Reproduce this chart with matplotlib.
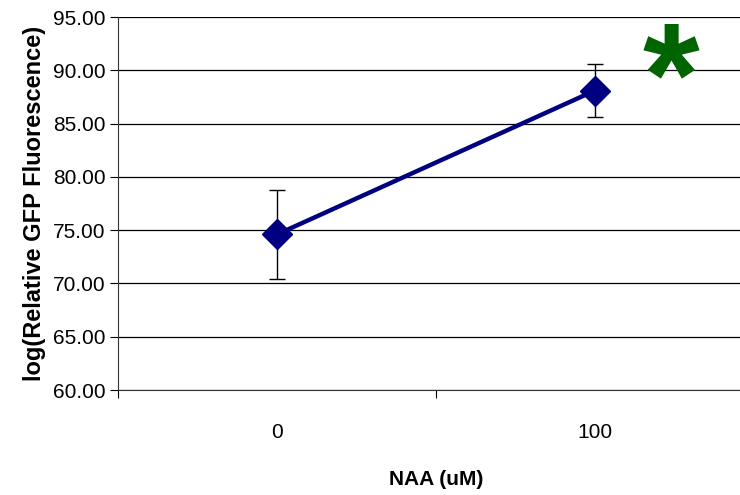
import matplotlib
matplotlib.use("Agg")
import matplotlib.pyplot as plt
from matplotlib.ticker import FormatStrFormatter

plt.rcParams['font.family'] = ['Liberation Sans', 'DejaVu Sans']

# Data
categories = ["0", "100"]
means = [74.6, 88.1]
errors = [4.2, 2.45]

fig = plt.figure(figsize=(7.40, 4.95), dpi=100)
ax = fig.add_axes([118 / 740, 1 - 390 / 495, 636 / 740, 373 / 495])

xpos = [0, 1]
ax.plot(xpos, means, color="#000080", lw=3.2, zorder=3)
ax.errorbar(xpos, means, yerr=errors, fmt="none", ecolor="black",
            elinewidth=1.0, capsize=6, capthick=1.0, zorder=4)
ax.plot(xpos, means, linestyle="none", marker="D", markersize=15,
        color="#000080", zorder=5)

ax.set_xlim(-0.5, 1.5)
ax.set_ylim(60, 95)
ax.set_yticks(range(60, 96, 5))
ax.yaxis.set_major_formatter(FormatStrFormatter("%.2f"))
ax.grid(axis="y", color="black", lw=0.9)
ax.set_axisbelow(True)

# category labels centred between boundary ticks
ax.set_xticks([-0.5, 0.5, 1.5])
ax.set_xticklabels([])
ax.set_xticks(xpos, minor=True)
ax.set_xticklabels(categories, minor=True, fontsize=15)
ax.tick_params(axis="x", which="minor", length=0, pad=24)
ax.tick_params(axis="x", which="major", length=6, direction="out")
ax.tick_params(axis="y", length=6, direction="out", labelsize=15, pad=3)

for s in ["top", "right"]:
    ax.spines[s].set_visible(False)
ax.spines["left"].set_color("#333333")
ax.spines["bottom"].set_color("#333333")

ax.set_ylabel("log(Relative GFP Fluorescence)", fontsize=17, fontweight="bold", labelpad=5)
ax.set_xlabel("NAA (uM)", fontsize=15, fontweight="bold", labelpad=20)

ax.text(1.24, 88.45, "*", color="#006400", fontsize=105, fontweight="bold",
        ha="center", va="center", zorder=6)

fig.savefig("out.png", dpi=100)
